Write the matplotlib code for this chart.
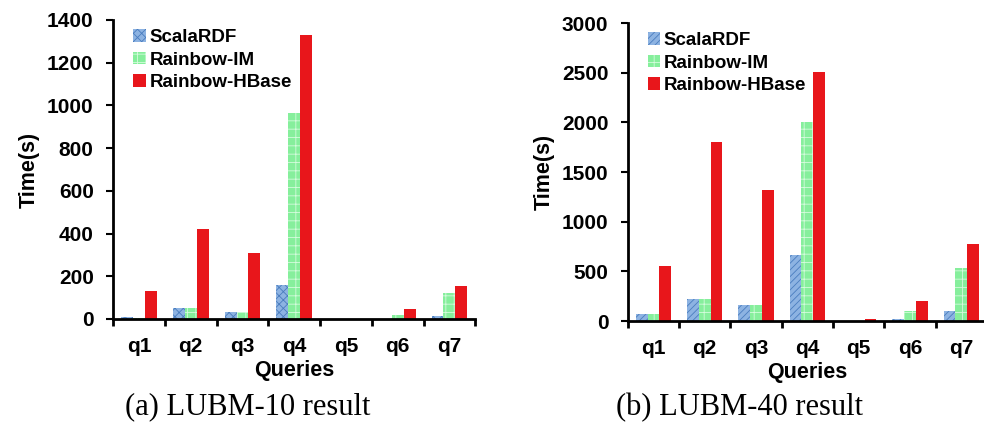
import numpy as np
import matplotlib.pyplot as plt

plt.rcParams['font.family'] = ['Liberation Sans', 'DejaVu Sans']
plt.rcParams['hatch.linewidth'] = 0.6

queries = ['q1', 'q2', 'q3', 'q4', 'q5', 'q6', 'q7']
series = ['ScalaRDF', 'Rainbow-IM', 'Rainbow-HBase']

# LUBM-10 (seconds)
lubm10_scala = [10, 50, 35, 160, 0, 2, 15]
lubm10_im = [5, 50, 35, 965, 0, 20, 120]
lubm10_hbase = [130, 420, 310, 1330, 0, 45, 155]

# LUBM-40 (seconds)
lubm40_scala = [70, 220, 160, 670, 0, 20, 100]
lubm40_im = [70, 220, 160, 2000, 0, 100, 530]
lubm40_hbase = [550, 1800, 1320, 2510, 20, 200, 780]


def draw(ax, vals, ymax, ystep, scala_hatch):
    x = np.arange(len(queries))
    w = 0.23
    styles = [
        dict(color='#8db3e2', edgecolor='#4a7dbf', hatch=scala_hatch),
        dict(color='#86ef9c', edgecolor='#d4fbdc', hatch='++'),
        dict(color='#e8161b', edgecolor='#f03a3a', hatch=None),
    ]
    for i, (v, name) in enumerate(zip(vals, series)):
        ax.bar(x + (i - 1) * w, v, w, label=name, linewidth=0, **styles[i])
    ax.set_xlim(-0.5, len(queries) - 0.5)
    ax.set_ylim(0, ymax)
    ax.set_yticks(np.arange(0, ymax + 1, ystep))
    ax.set_xticks(x, queries)
    ax.set_xticks(np.arange(-0.5, len(queries)), minor=True)
    ax.tick_params(axis='x', which='major', length=0, pad=13)
    ax.tick_params(axis='x', which='minor', length=5, width=2, direction='out')
    ax.tick_params(axis='y', length=5, width=1.5, direction='out', pad=9)
    for lab in ax.get_xticklabels() + ax.get_yticklabels():
        lab.set_fontsize(15)
        lab.set_fontweight('bold')
    for s in ['top', 'right']:
        ax.spines[s].set_visible(False)
    for s in ['left', 'bottom']:
        ax.spines[s].set_linewidth(2)
    ax.set_ylabel('Time(s)', fontsize=15.5, fontweight='bold', labelpad=5)
    ax.set_xlabel('Queries', fontsize=15.5, fontweight='bold', labelpad=3)
    ax.legend(loc='upper left', bbox_to_anchor=(0.035, 0.995), frameon=False,
              prop={'weight': 'bold', 'size': 13.5},
              handlelength=0.65, handleheight=0.65, handletextpad=0.2,
              labelspacing=0.3, borderaxespad=0)


fig = plt.figure(figsize=(9.84, 4.34), dpi=100)
ax1 = fig.add_axes([0.115, 0.265, 0.368, 0.689])
ax2 = fig.add_axes([0.638, 0.260, 0.365, 0.687])

draw(ax1, [lubm10_scala, lubm10_im, lubm10_hbase], 1400, 200, 'xxxx')
draw(ax2, [lubm40_scala, lubm40_im, lubm40_hbase], 3000, 500, '/////')

fig.text(0.252, 0.062, '(a) LUBM-10 result', ha='center', va='center',
         fontsize=22, family='Liberation Serif')
fig.text(0.752, 0.062, '(b) LUBM-40 result', ha='center', va='center',
         fontsize=22, family='Liberation Serif')

fig.savefig('out.png', dpi=100)
